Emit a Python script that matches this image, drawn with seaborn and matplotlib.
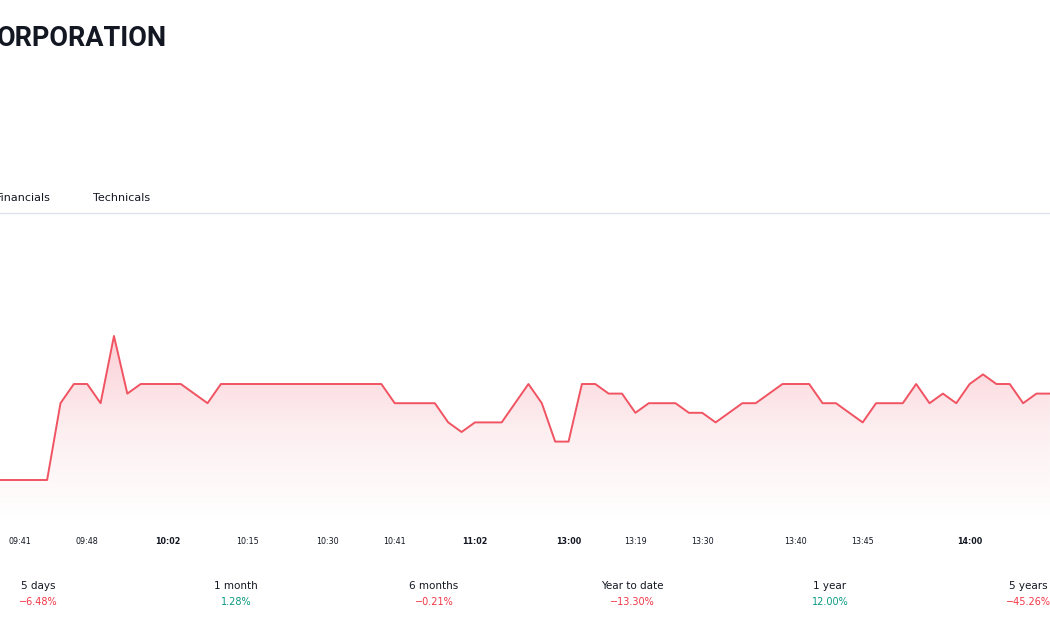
import numpy as np
import pandas as pd
import matplotlib
matplotlib.use("Agg")
import matplotlib.pyplot as plt
import seaborn as sns
from matplotlib.colors import LinearSegmentedColormap

sns.set_theme(style="white")
plt.rcParams['font.family'] = ['DejaVu Sans']

# price in ticks above session low
price_steps = [0, 0, 0, 0, 0, 8, 10, 10, 8, 15, 9, 10, 10, 10, 10, 9, 8, 10, 10, 10, 10,
               10, 10, 10, 10, 10, 10, 10, 10, 10, 8, 8, 8, 8, 6, 5, 6, 6, 6, 8, 10,
               8, 4, 4, 10, 10, 9, 9, 7, 8, 8, 8, 7, 7, 6, 7, 8, 8, 9, 10, 10,
               10, 8, 8, 7, 6, 8, 8, 8, 10, 8, 9, 8, 10, 11, 10, 10, 8, 9, 9]
tick_idx = [2, 7, 13, 19, 25, 30, 36, 43, 48, 53, 60, 65, 73]
tick_labels = ["09:41", "09:48", "10:02", "10:15", "10:30", "10:41", "11:02",
               "13:00", "13:19", "13:30", "13:40", "13:45", "14:00"]
bold_labels = {"10:02", "11:02", "13:00", "14:00"}
periods = ["5 days", "1 month", "6 months", "Year to date", "1 year", "5 years"]
changes = ["\u22126.48%", "1.28%", "\u22120.21%", "\u221213.30%", "12.00%", "\u221245.26%"]

W, H = 1050, 630
fig = plt.figure(figsize=(10.5, 6.3), dpi=100)
fig.patch.set_facecolor("white")

def fx(px): return px / W
def fy(py): return 1 - py / H

pxstep = 13.37
x0 = 7 - pxstep  # pixel of index 0
ax = fig.add_axes([0, fy(520), 1, (520 - 213) / H])
df = pd.DataFrame({"i": np.arange(len(price_steps)), "p": price_steps})
xl = (-x0 / pxstep, (W - x0) / pxstep)
yl = (-40 / 9.6, (480 - 213) / 9.6)

bottom = yl[0]
poly = ax.fill_between(df["i"], df["p"], bottom, color="none", lw=0)
cmap = LinearSegmentedColormap.from_list("g", ["#ffffff", "#fdeef0", "#fbd0d6"])
grad = np.linspace(0, 1, 256).reshape(-1, 1)
im = ax.imshow(grad, cmap=cmap, aspect="auto", origin="lower",
               extent=[-1, 82, bottom, 15], zorder=1)
im.set_clip_path(poly.get_paths()[0], transform=ax.transData)
sns.lineplot(data=df, x="i", y="p", ax=ax, color="#f05462", lw=1.4, zorder=3)
ax.set_xlim(*xl)
ax.set_ylim(*yl)
ax.axis("off")

fig.add_artist(plt.Line2D([0, 1], [fy(213), fy(213)], color="#e0e3eb", lw=1))

for i, lab in zip(tick_idx, tick_labels):
    x = x0 + i * pxstep
    fig.text(fx(x), fy(541), lab, ha="center", va="center", fontsize=5.8,
             color="#131722", fontweight="bold" if lab in bold_labels else "normal")

fig.text(fx(-3), fy(38), "ORPORATION", ha="left", va="center", fontsize=19.5,
         fontweight="bold", color="#131722", family=["Roboto", "DejaVu Sans"])
fig.text(fx(-4), fy(198), "Financials", ha="left", va="center", fontsize=8, color="#131722")
fig.text(fx(93), fy(198), "Technicals", ha="left", va="center", fontsize=8, color="#131722")

centers = [38, 236, 434, 632, 830, 1028]
for c, p, v in zip(centers, periods, changes):
    col = "#f23645" if v.startswith("\u2212") else "#089981"
    fig.text(fx(c), fy(586), p, ha="center", va="center", fontsize=7.5, color="#131722")
    fig.text(fx(c), fy(602), v, ha="center", va="center", fontsize=7, color=col)

fig.savefig("out.png", dpi=100, facecolor="white")
